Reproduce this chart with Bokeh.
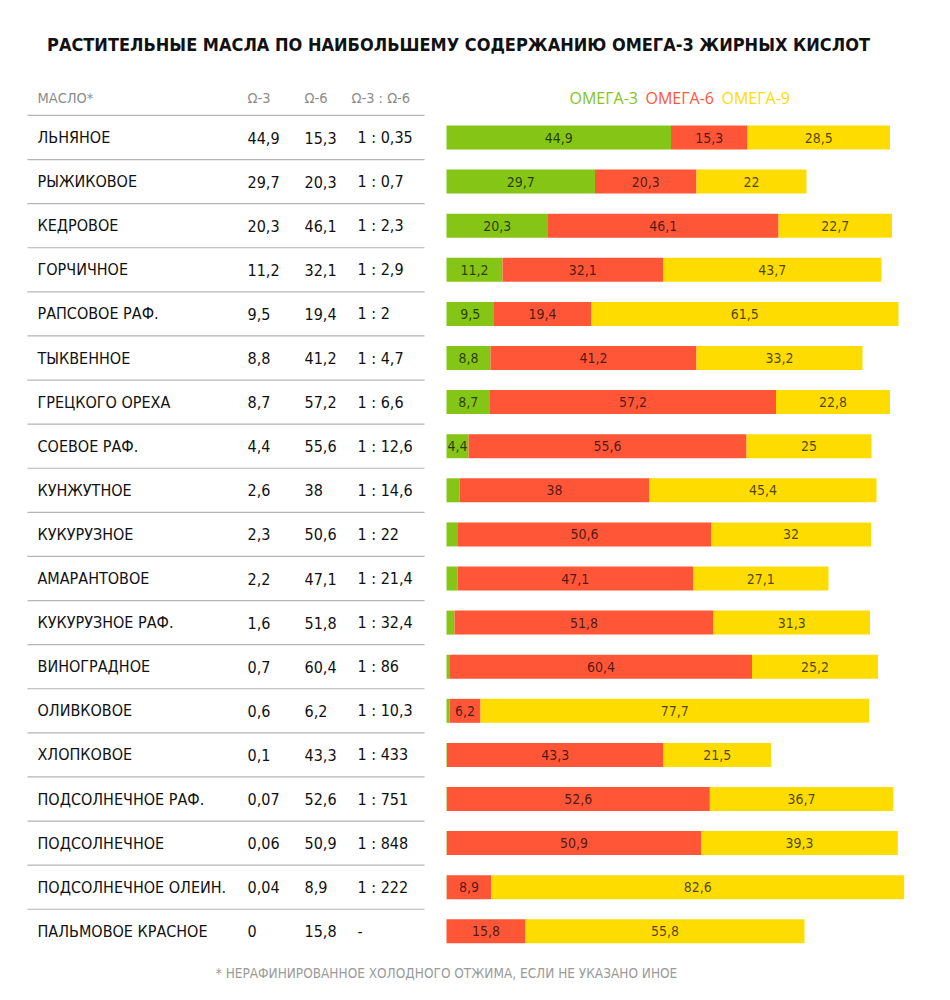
from bokeh.plotting import figure
from bokeh.models import Range1d
from bokeh.core.properties import value
from bokeh.embed import file_html
from bokeh.resources import INLINE

# ---------------- data ----------------
title = "РАСТИТЕЛЬНЫЕ МАСЛА ПО НАИБОЛЬШЕМУ СОДЕРЖАНИЮ ОМЕГА-3 ЖИРНЫХ КИСЛОТ"
header_labels = ["МАСЛО*", "Ω-3", "Ω-6", "Ω-3 : Ω-6"]
legend_labels = ["ОМЕГА-3", "ОМЕГА-6", "ОМЕГА-9"]
footnote = "* НЕРАФИНИРОВАННОЕ ХОЛОДНОГО ОТЖИМА, ЕСЛИ НЕ УКАЗАНО ИНОЕ"

oils = ["ЛЬНЯНОЕ", "РЫЖИКОВОЕ", "КЕДРОВОЕ", "ГОРЧИЧНОЕ", "РАПСОВОЕ РАФ.",
        "ТЫКВЕННОЕ", "ГРЕЦКОГО ОРЕХА", "СОЕВОЕ РАФ.", "КУНЖУТНОЕ", "КУКУРУЗНОЕ",
        "АМАРАНТОВОЕ", "КУКУРУЗНОЕ РАФ.", "ВИНОГРАДНОЕ", "ОЛИВКОВОЕ", "ХЛОПКОВОЕ",
        "ПОДСОЛНЕЧНОЕ РАФ.", "ПОДСОЛНЕЧНОЕ", "ПОДСОЛНЕЧНОЕ ОЛЕИН.", "ПАЛЬМОВОЕ КРАСНОЕ"]
omega3 = [44.9, 29.7, 20.3, 11.2, 9.5, 8.8, 8.7, 4.4, 2.6, 2.3, 2.2, 1.6, 0.7, 0.6,
          0.1, 0.07, 0.06, 0.04, 0]
omega6 = [15.3, 20.3, 46.1, 32.1, 19.4, 41.2, 57.2, 55.6, 38, 50.6, 47.1, 51.8, 60.4,
          6.2, 43.3, 52.6, 50.9, 8.9, 15.8]
omega9 = [28.5, 22, 22.7, 43.7, 61.5, 33.2, 22.8, 25, 45.4, 32, 27.1, 31.3, 25.2,
          77.7, 21.5, 36.7, 39.3, 82.6, 55.8]
ratios = ["1 : 0,35", "1 : 0,7", "1 : 2,3", "1 : 2,9", "1 : 2", "1 : 4,7", "1 : 6,6",
          "1 : 12,6", "1 : 14,6", "1 : 22", "1 : 21,4", "1 : 32,4", "1 : 86", "1 : 10,3",
          "1 : 433", "1 : 751", "1 : 848", "1 : 222", "-"]

# ---------------- style ----------------
GREEN = "#84C516"
RED = "#FF5638"
YELLOW = "#FFDC00"
COND = value("'Noto Sans Condensed', 'DejaVu Sans Condensed', sans-serif")
HUMAN = value("Open Sans")

def fmt(v):
    return f"{v:g}".replace(".", ",")

n = len(oils)
rows = list(range(n))

W, H = 934, 984
p = figure(width=W, height=H, output_backend="svg", toolbar_location=None,
           x_range=Range1d(-89.2, 97.6), y_range=Range1d(19.206, -3.107),
           min_border=0, outline_line_color=None)
p.axis.visible = False
p.grid.visible = False
p.background_fill_color = "white"

# ---------------- bars ----------------
l3 = [0] * n
r3 = [a for a in omega3]
r6 = [a + b for a, b in zip(omega3, omega6)]
r9 = [a + b + c for a, b, c in zip(omega3, omega6, omega9)]
bh = 0.544
p.hbar(y=rows, left=l3, right=r3, height=bh, fill_color=GREEN, line_color=None)
p.hbar(y=rows, left=r3, right=r6, height=bh, fill_color=RED, line_color=None)
p.hbar(y=rows, left=r6, right=r9, height=bh, fill_color=YELLOW, line_color=None)

# bar labels
lx, ly, lt = [], [], []
for i in rows:
    if omega3[i] >= 4:
        lx.append(omega3[i] / 2); ly.append(i); lt.append(fmt(omega3[i]))
    lx.append(r3[i] + omega6[i] / 2); ly.append(i); lt.append(fmt(omega6[i]))
    lx.append(r6[i] + omega9[i] / 2); ly.append(i); lt.append(fmt(omega9[i]))
p.text(x=lx, y=ly, text=lt, text_align="center", text_baseline="middle",
       text_font=COND, text_font_size="14px", text_color="black", text_alpha=0.7)

# ---------------- table ----------------
X_NAME, X_O3, X_O6, X_RAT = -81.8, -39.8, -28.4, -17.8
for xs, labels in [(X_NAME, oils), (X_O3, [fmt(v) for v in omega3]),
                   (X_O6, [fmt(v) for v in omega6]), (X_RAT, ratios)]:
    p.text(x=[xs] * n, y=rows, text=labels, text_baseline="middle",
           text_font=COND, text_font_size="16px", text_color="#111111")

# separators
sep_y = [-0.5] + [i + 0.5 for i in range(n - 1)]
p.segment(x0=[-83.8] * len(sep_y), x1=[-4.4] * len(sep_y), y0=sep_y, y1=sep_y,
          line_color="#b5b5b5", line_width=1.2)

# header
hy = -0.885
p.text(x=[X_NAME, X_O3, X_O6, -19.0], y=[hy] * 4, text=header_labels,
       text_baseline="middle", text_font=COND, text_font_size="14.5px",
       text_color="#8c8c8c")

# legend
p.text(x=[24.6, 39.8, 55.0], y=[hy] * 3, text=legend_labels, text_baseline="middle",
       text_font=HUMAN, text_font_size="16px", text_color=[GREEN, RED, YELLOW])

# title
p.text(x=[2.4], y=[-2.11], text=[title], text_align="center", text_baseline="middle",
       text_font=COND, text_font_size="18px", text_font_style="bold",
       text_color="#111111")

# footnote
p.text(x=[0.0], y=[18.95], text=[footnote], text_align="center",
       text_baseline="middle", text_font=COND, text_font_size="13.5px",
       text_color="#9a9a9a")

open("out.html", "w").write(file_html(p, INLINE))
